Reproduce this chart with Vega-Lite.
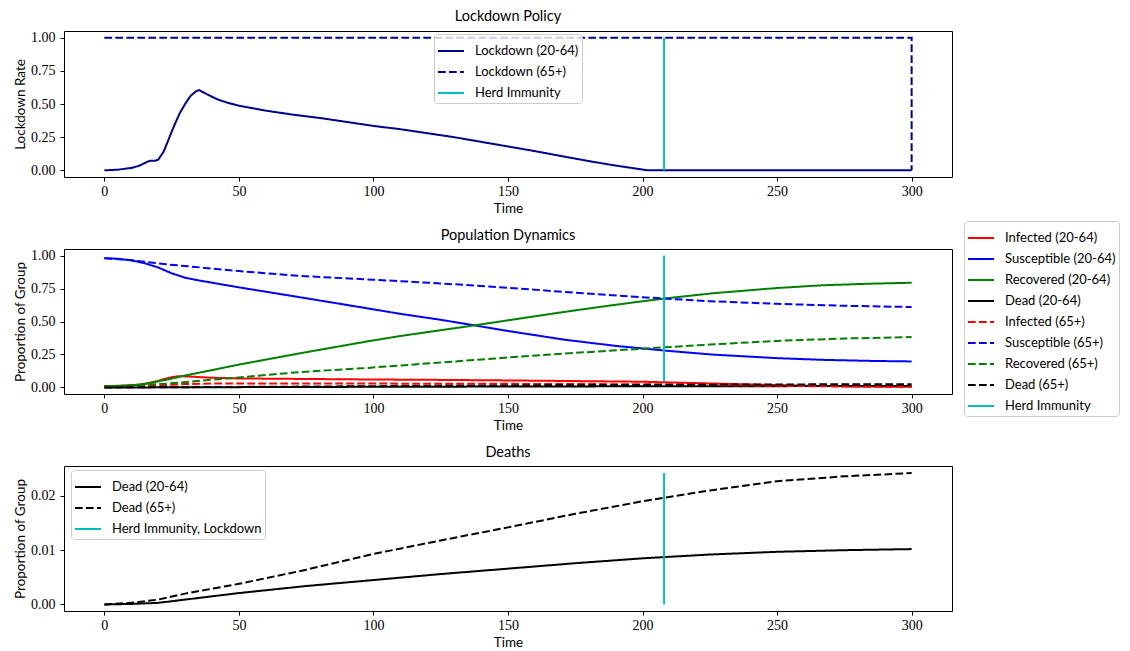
{
  "$schema": "https://vega.github.io/schema/vega-lite/v6.json",
  "background": "white",
  "padding": {"left": 12, "top": 8, "right": 5, "bottom": 3},
  "autosize": {"type": "pad"},
  "bounds": "flush",
  "spacing": 72,
  "datasets": {
    "lockdown": [
      {"t": 0, "v": 0, "s": "Lockdown (20-64)"},
      {"t": 5, "v": 0.005, "s": "Lockdown (20-64)"},
      {"t": 10, "v": 0.018, "s": "Lockdown (20-64)"},
      {"t": 13, "v": 0.035, "s": "Lockdown (20-64)"},
      {"t": 16, "v": 0.065, "s": "Lockdown (20-64)"},
      {"t": 17, "v": 0.072, "s": "Lockdown (20-64)"},
      {"t": 19, "v": 0.073, "s": "Lockdown (20-64)"},
      {"t": 20, "v": 0.08, "s": "Lockdown (20-64)"},
      {"t": 22, "v": 0.14, "s": "Lockdown (20-64)"},
      {"t": 24, "v": 0.24, "s": "Lockdown (20-64)"},
      {"t": 26, "v": 0.34, "s": "Lockdown (20-64)"},
      {"t": 28, "v": 0.43, "s": "Lockdown (20-64)"},
      {"t": 30, "v": 0.5, "s": "Lockdown (20-64)"},
      {"t": 32, "v": 0.56, "s": "Lockdown (20-64)"},
      {"t": 34, "v": 0.595, "s": "Lockdown (20-64)"},
      {"t": 35.2, "v": 0.605, "s": "Lockdown (20-64)"},
      {"t": 38, "v": 0.575, "s": "Lockdown (20-64)"},
      {"t": 42, "v": 0.535, "s": "Lockdown (20-64)"},
      {"t": 46, "v": 0.508, "s": "Lockdown (20-64)"},
      {"t": 50, "v": 0.487, "s": "Lockdown (20-64)"},
      {"t": 60, "v": 0.45, "s": "Lockdown (20-64)"},
      {"t": 70, "v": 0.42, "s": "Lockdown (20-64)"},
      {"t": 80, "v": 0.395, "s": "Lockdown (20-64)"},
      {"t": 90, "v": 0.365, "s": "Lockdown (20-64)"},
      {"t": 100, "v": 0.335, "s": "Lockdown (20-64)"},
      {"t": 110, "v": 0.31, "s": "Lockdown (20-64)"},
      {"t": 120, "v": 0.28, "s": "Lockdown (20-64)"},
      {"t": 130, "v": 0.25, "s": "Lockdown (20-64)"},
      {"t": 140, "v": 0.215, "s": "Lockdown (20-64)"},
      {"t": 150, "v": 0.18, "s": "Lockdown (20-64)"},
      {"t": 160, "v": 0.145, "s": "Lockdown (20-64)"},
      {"t": 170, "v": 0.107, "s": "Lockdown (20-64)"},
      {"t": 180, "v": 0.07, "s": "Lockdown (20-64)"},
      {"t": 190, "v": 0.036, "s": "Lockdown (20-64)"},
      {"t": 200, "v": 0.006, "s": "Lockdown (20-64)"},
      {"t": 202, "v": 0, "s": "Lockdown (20-64)"},
      {"t": 300, "v": 0, "s": "Lockdown (20-64)"},
      {"t": 0, "v": 1, "s": "Lockdown (65+)"},
      {"t": 300, "v": 1, "s": "Lockdown (65+)"},
      {"t": 300, "v": 0, "s": "Lockdown (65+)"},
      {"t": 208, "v": 0, "s": "Herd Immunity"},
      {"t": 208, "v": 1, "s": "Herd Immunity"}
    ],
    "dynamics": [
      {"t": 0, "v": 0.01, "s": "Infected (20-64)"},
      {"t": 5, "v": 0.012, "s": "Infected (20-64)"},
      {"t": 10, "v": 0.016, "s": "Infected (20-64)"},
      {"t": 15, "v": 0.025, "s": "Infected (20-64)"},
      {"t": 20, "v": 0.05, "s": "Infected (20-64)"},
      {"t": 25, "v": 0.078, "s": "Infected (20-64)"},
      {"t": 28, "v": 0.085, "s": "Infected (20-64)"},
      {"t": 32, "v": 0.082, "s": "Infected (20-64)"},
      {"t": 40, "v": 0.073, "s": "Infected (20-64)"},
      {"t": 50, "v": 0.068, "s": "Infected (20-64)"},
      {"t": 75, "v": 0.064, "s": "Infected (20-64)"},
      {"t": 100, "v": 0.06, "s": "Infected (20-64)"},
      {"t": 125, "v": 0.057, "s": "Infected (20-64)"},
      {"t": 150, "v": 0.053, "s": "Infected (20-64)"},
      {"t": 175, "v": 0.048, "s": "Infected (20-64)"},
      {"t": 200, "v": 0.043, "s": "Infected (20-64)"},
      {"t": 225, "v": 0.03, "s": "Infected (20-64)"},
      {"t": 250, "v": 0.017, "s": "Infected (20-64)"},
      {"t": 275, "v": 0.008, "s": "Infected (20-64)"},
      {"t": 300, "v": 0.004, "s": "Infected (20-64)"},
      {"t": 0, "v": 0.98, "s": "Susceptible (20-64)"},
      {"t": 5, "v": 0.976, "s": "Susceptible (20-64)"},
      {"t": 10, "v": 0.964, "s": "Susceptible (20-64)"},
      {"t": 15, "v": 0.942, "s": "Susceptible (20-64)"},
      {"t": 20, "v": 0.91, "s": "Susceptible (20-64)"},
      {"t": 25, "v": 0.866, "s": "Susceptible (20-64)"},
      {"t": 30, "v": 0.832, "s": "Susceptible (20-64)"},
      {"t": 35, "v": 0.812, "s": "Susceptible (20-64)"},
      {"t": 50, "v": 0.759, "s": "Susceptible (20-64)"},
      {"t": 73, "v": 0.683, "s": "Susceptible (20-64)"},
      {"t": 98, "v": 0.599, "s": "Susceptible (20-64)"},
      {"t": 110, "v": 0.558, "s": "Susceptible (20-64)"},
      {"t": 125, "v": 0.513, "s": "Susceptible (20-64)"},
      {"t": 138, "v": 0.469, "s": "Susceptible (20-64)"},
      {"t": 150, "v": 0.428, "s": "Susceptible (20-64)"},
      {"t": 171, "v": 0.362, "s": "Susceptible (20-64)"},
      {"t": 190, "v": 0.315, "s": "Susceptible (20-64)"},
      {"t": 208, "v": 0.28, "s": "Susceptible (20-64)"},
      {"t": 226, "v": 0.249, "s": "Susceptible (20-64)"},
      {"t": 250, "v": 0.222, "s": "Susceptible (20-64)"},
      {"t": 267, "v": 0.209, "s": "Susceptible (20-64)"},
      {"t": 285, "v": 0.201, "s": "Susceptible (20-64)"},
      {"t": 300, "v": 0.197, "s": "Susceptible (20-64)"},
      {"t": 0, "v": 0.008, "s": "Recovered (20-64)"},
      {"t": 10, "v": 0.014, "s": "Recovered (20-64)"},
      {"t": 17, "v": 0.033, "s": "Recovered (20-64)"},
      {"t": 23, "v": 0.058, "s": "Recovered (20-64)"},
      {"t": 30, "v": 0.09, "s": "Recovered (20-64)"},
      {"t": 50, "v": 0.173, "s": "Recovered (20-64)"},
      {"t": 73, "v": 0.26, "s": "Recovered (20-64)"},
      {"t": 98, "v": 0.35, "s": "Recovered (20-64)"},
      {"t": 110, "v": 0.39, "s": "Recovered (20-64)"},
      {"t": 138, "v": 0.472, "s": "Recovered (20-64)"},
      {"t": 150, "v": 0.509, "s": "Recovered (20-64)"},
      {"t": 171, "v": 0.573, "s": "Recovered (20-64)"},
      {"t": 190, "v": 0.627, "s": "Recovered (20-64)"},
      {"t": 208, "v": 0.674, "s": "Recovered (20-64)"},
      {"t": 226, "v": 0.714, "s": "Recovered (20-64)"},
      {"t": 250, "v": 0.754, "s": "Recovered (20-64)"},
      {"t": 267, "v": 0.775, "s": "Recovered (20-64)"},
      {"t": 285, "v": 0.787, "s": "Recovered (20-64)"},
      {"t": 300, "v": 0.794, "s": "Recovered (20-64)"},
      {"t": 0, "v": 0, "s": "Dead (20-64)"},
      {"t": 20, "v": 0.0003, "s": "Dead (20-64)"},
      {"t": 50, "v": 0.0021, "s": "Dead (20-64)"},
      {"t": 100, "v": 0.0045, "s": "Dead (20-64)"},
      {"t": 150, "v": 0.0066, "s": "Dead (20-64)"},
      {"t": 200, "v": 0.0085, "s": "Dead (20-64)"},
      {"t": 250, "v": 0.0097, "s": "Dead (20-64)"},
      {"t": 300, "v": 0.0102, "s": "Dead (20-64)"},
      {"t": 0, "v": 0.003, "s": "Infected (65+)"},
      {"t": 10, "v": 0.006, "s": "Infected (65+)"},
      {"t": 20, "v": 0.015, "s": "Infected (65+)"},
      {"t": 30, "v": 0.025, "s": "Infected (65+)"},
      {"t": 40, "v": 0.029, "s": "Infected (65+)"},
      {"t": 50, "v": 0.03, "s": "Infected (65+)"},
      {"t": 100, "v": 0.029, "s": "Infected (65+)"},
      {"t": 150, "v": 0.027, "s": "Infected (65+)"},
      {"t": 200, "v": 0.024, "s": "Infected (65+)"},
      {"t": 225, "v": 0.018, "s": "Infected (65+)"},
      {"t": 250, "v": 0.012, "s": "Infected (65+)"},
      {"t": 275, "v": 0.007, "s": "Infected (65+)"},
      {"t": 300, "v": 0.004, "s": "Infected (65+)"},
      {"t": 0, "v": 0.98, "s": "Susceptible (65+)"},
      {"t": 10, "v": 0.965, "s": "Susceptible (65+)"},
      {"t": 23, "v": 0.934, "s": "Susceptible (65+)"},
      {"t": 50, "v": 0.883, "s": "Susceptible (65+)"},
      {"t": 73, "v": 0.845, "s": "Susceptible (65+)"},
      {"t": 100, "v": 0.817, "s": "Susceptible (65+)"},
      {"t": 125, "v": 0.789, "s": "Susceptible (65+)"},
      {"t": 150, "v": 0.756, "s": "Susceptible (65+)"},
      {"t": 175, "v": 0.718, "s": "Susceptible (65+)"},
      {"t": 200, "v": 0.684, "s": "Susceptible (65+)"},
      {"t": 225, "v": 0.654, "s": "Susceptible (65+)"},
      {"t": 250, "v": 0.634, "s": "Susceptible (65+)"},
      {"t": 275, "v": 0.619, "s": "Susceptible (65+)"},
      {"t": 300, "v": 0.61, "s": "Susceptible (65+)"},
      {"t": 0, "v": 0.005, "s": "Recovered (65+)"},
      {"t": 23, "v": 0.028, "s": "Recovered (65+)"},
      {"t": 50, "v": 0.076, "s": "Recovered (65+)"},
      {"t": 73, "v": 0.117, "s": "Recovered (65+)"},
      {"t": 98, "v": 0.148, "s": "Recovered (65+)"},
      {"t": 125, "v": 0.189, "s": "Recovered (65+)"},
      {"t": 150, "v": 0.227, "s": "Recovered (65+)"},
      {"t": 175, "v": 0.262, "s": "Recovered (65+)"},
      {"t": 200, "v": 0.294, "s": "Recovered (65+)"},
      {"t": 225, "v": 0.325, "s": "Recovered (65+)"},
      {"t": 250, "v": 0.353, "s": "Recovered (65+)"},
      {"t": 275, "v": 0.371, "s": "Recovered (65+)"},
      {"t": 300, "v": 0.382, "s": "Recovered (65+)"},
      {"t": 0, "v": 0, "s": "Dead (65+)"},
      {"t": 20, "v": 0.0009, "s": "Dead (65+)"},
      {"t": 50, "v": 0.0038, "s": "Dead (65+)"},
      {"t": 100, "v": 0.0093, "s": "Dead (65+)"},
      {"t": 150, "v": 0.0142, "s": "Dead (65+)"},
      {"t": 200, "v": 0.019, "s": "Dead (65+)"},
      {"t": 250, "v": 0.0227, "s": "Dead (65+)"},
      {"t": 300, "v": 0.0242, "s": "Dead (65+)"},
      {"t": 208, "v": 0.044, "s": "Herd Immunity"},
      {"t": 208, "v": 1.0, "s": "Herd Immunity"}
    ],
    "deaths": [
      {"t": 0, "v": 0, "s": "Dead (20-64)"},
      {"t": 10, "v": 0.0001, "s": "Dead (20-64)"},
      {"t": 20, "v": 0.0003, "s": "Dead (20-64)"},
      {"t": 30, "v": 0.0009, "s": "Dead (20-64)"},
      {"t": 40, "v": 0.0015, "s": "Dead (20-64)"},
      {"t": 50, "v": 0.0021, "s": "Dead (20-64)"},
      {"t": 75, "v": 0.0034, "s": "Dead (20-64)"},
      {"t": 100, "v": 0.0045, "s": "Dead (20-64)"},
      {"t": 125, "v": 0.0056, "s": "Dead (20-64)"},
      {"t": 150, "v": 0.0066, "s": "Dead (20-64)"},
      {"t": 175, "v": 0.0076, "s": "Dead (20-64)"},
      {"t": 200, "v": 0.0085, "s": "Dead (20-64)"},
      {"t": 225, "v": 0.0092, "s": "Dead (20-64)"},
      {"t": 250, "v": 0.0097, "s": "Dead (20-64)"},
      {"t": 275, "v": 0.01, "s": "Dead (20-64)"},
      {"t": 300, "v": 0.0102, "s": "Dead (20-64)"},
      {"t": 0, "v": 0, "s": "Dead (65+)"},
      {"t": 10, "v": 0.0003, "s": "Dead (65+)"},
      {"t": 20, "v": 0.0009, "s": "Dead (65+)"},
      {"t": 30, "v": 0.002, "s": "Dead (65+)"},
      {"t": 40, "v": 0.0029, "s": "Dead (65+)"},
      {"t": 50, "v": 0.0038, "s": "Dead (65+)"},
      {"t": 75, "v": 0.0064, "s": "Dead (65+)"},
      {"t": 100, "v": 0.0093, "s": "Dead (65+)"},
      {"t": 125, "v": 0.0118, "s": "Dead (65+)"},
      {"t": 150, "v": 0.0142, "s": "Dead (65+)"},
      {"t": 175, "v": 0.0167, "s": "Dead (65+)"},
      {"t": 200, "v": 0.019, "s": "Dead (65+)"},
      {"t": 225, "v": 0.021, "s": "Dead (65+)"},
      {"t": 250, "v": 0.0227, "s": "Dead (65+)"},
      {"t": 275, "v": 0.0236, "s": "Dead (65+)"},
      {"t": 300, "v": 0.0242, "s": "Dead (65+)"},
      {"t": 208, "v": 0, "s": "Herd Immunity, Lockdown"},
      {"t": 208, "v": 0.0242, "s": "Herd Immunity, Lockdown"}
    ]
  },
  "vconcat": [
    {
      "width": 888,
      "height": 146,
      "title": "Lockdown Policy",
      "data": {"name": "lockdown"},
      "mark": {"type": "line", "strokeWidth": 2},
      "encoding": {
        "x": {"field": "t", "type": "quantitative", "scale": {"domain": [-15, 315], "nice": false, "zero": false}, "axis": {"values": [0, 50, 100, 150, 200, 250, 300], "title": "Time"}},
        "y": {"field": "v", "type": "quantitative", "scale": {"domain": [-0.05, 1.05], "nice": false, "zero": false}, "axis": {"values": [0, 0.25, 0.5, 0.75, 1], "format": ".2f", "title": "Lockdown Rate"}},
        "color": {"field": "s", "type": "nominal", "scale": {"domain": ["Lockdown (20-64)", "Lockdown (65+)", "Herd Immunity"], "range": ["#00008b", "#00008b", "#00bfbf"]}, "legend": {"orient": "none", "legendX": 370, "legendY": 3, "title": null}},
        "strokeDash": {"field": "s", "type": "nominal", "scale": {"domain": ["Lockdown (20-64)", "Lockdown (65+)", "Herd Immunity"], "range": [[1, 0], [7.7, 3.3], [1, 0]]}, "legend": {"orient": "none", "legendX": 370, "legendY": 3, "title": null}},
        "order": {"value": null}
      }
    },
    {
      "width": 888,
      "height": 145,
      "title": {"text": "Population Dynamics", "dy": 29},
      "data": {"name": "dynamics"},
      "mark": {"type": "line", "strokeWidth": 2},
      "encoding": {
        "x": {"field": "t", "type": "quantitative", "scale": {"domain": [-15, 315], "nice": false, "zero": false}, "axis": {"values": [0, 50, 100, 150, 200, 250, 300], "title": "Time"}},
        "y": {"field": "v", "type": "quantitative", "scale": {"domain": [-0.05, 1.05], "nice": false, "zero": false}, "axis": {"values": [0, 0.25, 0.5, 0.75, 1], "format": ".2f", "title": "Proportion of Group"}},
        "color": {"field": "s", "type": "nominal", "scale": {"domain": ["Infected (20-64)", "Susceptible (20-64)", "Recovered (20-64)", "Dead (20-64)", "Infected (65+)", "Susceptible (65+)", "Recovered (65+)", "Dead (65+)", "Herd Immunity"], "range": ["#ff0000", "#0000ff", "#008000", "#000000", "#ff0000", "#0000ff", "#008000", "#000000", "#00bfbf"]}, "legend": {"orient": "none", "legendX": 900, "legendY": -28, "title": null}},
        "strokeDash": {"field": "s", "type": "nominal", "scale": {"domain": ["Infected (20-64)", "Susceptible (20-64)", "Recovered (20-64)", "Dead (20-64)", "Infected (65+)", "Susceptible (65+)", "Recovered (65+)", "Dead (65+)", "Herd Immunity"], "range": [[1, 0], [1, 0], [1, 0], [1, 0], [7.7, 3.3], [7.7, 3.3], [7.7, 3.3], [7.7, 3.3], [1, 0]]}, "legend": {"orient": "none", "legendX": 900, "legendY": -28, "title": null}},
        "order": {"value": null}
      }
    },
    {
      "width": 888,
      "height": 145,
      "title": "Deaths",
      "data": {"name": "deaths"},
      "mark": {"type": "line", "strokeWidth": 2},
      "encoding": {
        "x": {"field": "t", "type": "quantitative", "scale": {"domain": [-15, 315], "nice": false, "zero": false}, "axis": {"values": [0, 50, 100, 150, 200, 250, 300], "title": "Time"}},
        "y": {"field": "v", "type": "quantitative", "scale": {"domain": [-0.0012, 0.0255], "nice": false, "zero": false}, "axis": {"values": [0, 0.01, 0.02], "format": ".2f", "title": "Proportion of Group"}},
        "color": {"field": "s", "type": "nominal", "scale": {"domain": ["Dead (20-64)", "Dead (65+)", "Herd Immunity, Lockdown"], "range": ["#000000", "#000000", "#00bfbf"]}, "legend": {"orient": "none", "legendX": 7, "legendY": 4, "title": null}},
        "strokeDash": {"field": "s", "type": "nominal", "scale": {"domain": ["Dead (20-64)", "Dead (65+)", "Herd Immunity, Lockdown"], "range": [[1, 0], [7.7, 3.3], [1, 0]]}, "legend": {"orient": "none", "legendX": 7, "legendY": 4, "title": null}},
        "order": {"value": null}
      }
    }
  ],
  "resolve": {"scale": {"color": "independent", "strokeDash": "independent", "x": "independent", "y": "independent"}},
  "config": {
    "view": {"stroke": "#000000", "strokeWidth": 1},
    "axis": {
      "domain": false,
      "grid": false,
      "ticks": true,
      "tickColor": "#000000",
      "tickSize": 4,
      "tickWidth": 1,
      "labelFont": "Liberation Serif",
      "labelFontSize": 14,
      "labelColor": "#000000",
      "titleFont": "Lato",
      "titleFontSize": 13.5,
      "titleFontWeight": "normal",
      "titleColor": "#000000",
      "titlePadding": 3
    },
    "axisX": {"labelPadding": 3},
    "axisY": {"labelPadding": 5},
    "title": {"font": "Lato", "fontSize": 14.5, "fontWeight": "normal", "color": "#000000", "offset": 6},
    "legend": {
      "symbolType": "stroke",
      "symbolSize": 676,
      "symbolStrokeWidth": 2,
      "labelFont": "Lato",
      "labelFontSize": 13,
      "labelColor": "#000000",
      "labelOffset": 10,
      "labelLimit": 300,
      "fillColor": "rgba(255,255,255,0.8)",
      "strokeColor": "#cccccc",
      "cornerRadius": 3,
      "padding": 3,
      "rowPadding": -4.5
    }
  }
}
